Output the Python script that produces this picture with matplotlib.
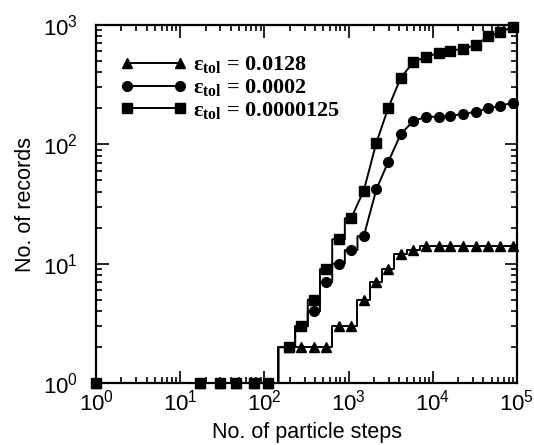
import numpy as np
import matplotlib
matplotlib.use("Agg")
import matplotlib.pyplot as plt
from matplotlib.ticker import LogLocator, NullFormatter

plt.rcParams['font.family'] = ['Liberation Sans', 'DejaVu Sans']
plt.rcParams['mathtext.fontset'] = 'custom'
plt.rcParams['mathtext.rm'] = 'Liberation Serif:bold'
plt.rcParams['mathtext.bf'] = 'Liberation Serif:bold'

# particle steps where markers sit
steps = [1, 17, 30, 46, 75, 110,
         195, 275, 389, 537, 759, 1072, 1514, 2138, 2951, 4169,
         5888, 8318, 11749, 16218, 22909, 32359, 45709, 63096, 89125]

rec_0128 = [1, 1, 1, 1, 1, 1,
            2, 2, 2, 2, 3, 3, 5, 7, 9, 12,
            13, 14, 14, 14, 14, 14, 14, 14, 14]
rec_0002 = [1, 1, 1, 1, 1, 1,
            2, 3, 4, 7, 10, 13, 17, 42, 71, 122,
            157, 170, 170, 173, 180, 187, 201, 210, 223]
rec_0000125 = [1, 1, 1, 1, 1, 1,
               2, 3, 5, 9, 16, 24, 41, 103, 201, 361,
               490, 540, 583, 610, 630, 680, 800, 870, 960]

labels = ['ε$_{\\mathrm{tol}}$ = 0.0128',
          'ε$_{\\mathrm{tol}}$ = 0.0002',
          'ε$_{\\mathrm{tol}}$ = 0.0000125']
markers = ['^', 'o', 's']


def trace(xs, ys):
    # record counts are integers: small jumps drawn as steps
    lx, ly = [xs[0]], [ys[0]]
    for i in range(1, len(xs)):
        if ys[i] != ys[i - 1] and ys[i] <= 30:
            xm = np.sqrt(xs[i - 1] * xs[i])
            lx += [xm, xm]
            ly += [ys[i - 1], ys[i]]
        lx.append(xs[i])
        ly.append(ys[i])
    return lx, ly


fig = plt.figure(figsize=(5.34, 4.45), dpi=100)
ax = fig.add_axes([0.18, 0.139, 0.788, 0.805])

for ys, m, lab in zip([rec_0128, rec_0002, rec_0000125], markers, labels):
    lx, ly = trace(steps, ys)
    ax.plot(lx, ly, color='black', lw=1.4)
    ax.plot(steps, ys, ls='none', marker=m, ms=7, color='black', clip_on=False)
    ax.plot([], [], color='black', lw=1.4, marker=m, ms=7, label=lab)

ax.set_xscale('log')
ax.set_yscale('log')
ax.set_xlim(1, 1e5)
ax.set_ylim(1, 1e3)

ax.xaxis.set_major_locator(LogLocator(base=10, numticks=10))
ax.xaxis.set_minor_locator(LogLocator(base=10, subs=np.arange(2, 10), numticks=10))
ax.yaxis.set_minor_locator(LogLocator(base=10, subs=np.arange(2, 10), numticks=10))
ax.xaxis.set_minor_formatter(NullFormatter())
ax.yaxis.set_minor_formatter(NullFormatter())

ax.tick_params(which='both', direction='in', top=True, right=True, width=1.2)
ax.tick_params(which='major', length=9, labelsize=16, pad=5)
ax.tick_params(axis='y', which='major', pad=13)
ax.tick_params(which='minor', length=4)
for s in ax.spines.values():
    s.set_linewidth(1.6)

ax.set_xlabel('No. of particle steps', fontsize=15.5, labelpad=4)
ax.set_ylabel('No. of records', fontsize=15.5, labelpad=5)

leg = ax.legend(loc='upper left', bbox_to_anchor=(0.02, 0.96), frameon=False,
                numpoints=2, handlelength=3.0, handletextpad=0.3,
                labelspacing=0.05, borderaxespad=0.3,
                prop={'family': 'Liberation Serif', 'weight': 'bold', 'size': 16})

fig.savefig('out.png', dpi=100)
